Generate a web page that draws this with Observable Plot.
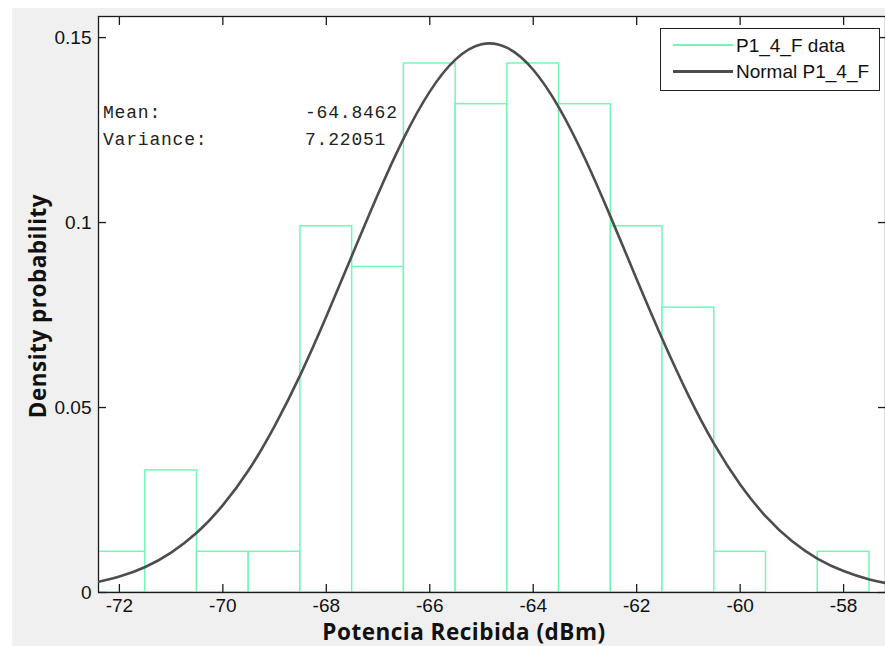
<!DOCTYPE html>
<html>
<head>
<meta charset="utf-8">
<script src="https://cdn.jsdelivr.net/npm/d3@7"></script>
<script src="https://cdn.jsdelivr.net/npm/@observablehq/plot@0.6"></script>
<style>
  html, body { margin: 0; padding: 0; background: #ffffff; }
  #wrap { position: relative; width: 885px; height: 646px; overflow: hidden; }
  #bg { position: absolute; left: 12px; top: 8px; right: 0; bottom: 0; background: #f0f0f0; }
  #chart { position: absolute; left: 0; top: 0; }
  .ttl { position: absolute; font-family: "Open Sans", "DejaVu Sans", sans-serif; font-weight: 700; font-size: 22.5px; letter-spacing: 0.5px; color: #111; line-height: 1; white-space: nowrap; }
  #ylab { left: 38px; top: 306px; transform: translate(-50%, -50%) rotate(-90deg); }
  #xlab { left: 464px; top: 632px; transform: translate(-50%, -50%); }
  .stat { position: absolute; font-family: "Liberation Mono", "Courier New", monospace; font-size: 18px; letter-spacing: 0.8px; color: #222; line-height: 27px; white-space: pre; }
  #legend { position: absolute; left: 660px; top: 28px; width: 218px; height: 61px; border: 1px solid #222; background: #fff; }
  .lg-line { position: absolute; left: 12px; width: 60px; }
  .lg-text { position: absolute; left: 75px; font-family: "Liberation Sans", Arial, sans-serif; font-size: 19px; color: #111; line-height: 1; transform: translateY(-50%); white-space: nowrap; }
</style>
</head>
<body>
<div id="wrap">
  <div id="bg"></div>
  <div id="chart"></div>
  <div class="ttl" id="ylab"></div>
  <div class="ttl" id="xlab"></div>
  <div class="stat" id="statLabels" style="left:103px; top:100px;"></div>
  <div class="stat" id="statValues" style="left:305px; top:100px;"></div>
  <div id="legend"></div>
</div>
<script>
// ---- data ----
const binCenters = [-72, -71, -70, -69, -68, -67, -66, -65, -64, -63, -62, -61, -60, -59, -58];
const binDensity = [0.011, 0.033, 0.011, 0.011, 0.099, 0.088, 0.143, 0.132, 0.143, 0.132, 0.099, 0.077, 0.011, 0, 0.011];
const binWidth = 1;

const curveX = [-72.4, -72, -71.5, -71, -70.5, -70, -69.5, -69, -68.5, -68, -67.5, -67, -66.5, -66, -65.5, -65, -64.5, -64, -63.5, -63, -62.5, -62, -61.5, -61, -60.5, -60, -59.5, -59, -58.5, -58, -57.5, -57.2];
const curveY = [0.0029, 0.0043, 0.0069, 0.0108, 0.0162, 0.0236, 0.0331, 0.0450, 0.0589, 0.0746, 0.0912, 0.1077, 0.1229, 0.1354, 0.1441, 0.1482, 0.1472, 0.1413, 0.1310, 0.1173, 0.1014, 0.0847, 0.0684, 0.0533, 0.0401, 0.0292, 0.0205, 0.0139, 0.0091, 0.0058, 0.0035, 0.0026];

const xTicks = [-72, -70, -68, -66, -64, -62, -60, -58];
const yTicks = [0, 0.05, 0.1, 0.15];
const xDomain = [-72.404, -57.19];
const yDomain = [0, 0.1557];

const xTitle = "Potencia Recibida (dBm)";
const yTitle = "Density probability";
const statNames = ["Mean:", "Variance:"];
const statValues = ["-64.8462", "7.22051"];
const legendLabels = ["P1_4_F data", "Normal P1_4_F"];

const barColor = "#74f7b6";
const curveColor = "#4d4d4d";

// ---- build tables ----
const bins = binCenters.map((c, i) => ({x1: c - binWidth / 2, x2: c + binWidth / 2, y: binDensity[i]}));
const curve = curveX.map((x, i) => ({x, y: curveY[i]}));

const fmt = d => String(d);

const chart = Plot.plot({
  width: 885,
  height: 646,
  marginLeft: 98,
  marginRight: 0,
  marginTop: 16,
  marginBottom: 54,
  style: {background: "transparent", fontFamily: "'Liberation Sans', Arial, sans-serif", color: "#111"},
  x: {domain: xDomain, label: null},
  y: {domain: yDomain, label: null},
  marks: [
    Plot.frame({fill: "white", stroke: null}),
    Plot.rectY(bins, {x1: "x1", x2: "x2", y: "y", fill: "white", stroke: barColor, strokeWidth: 1.5, clip: true}),
    Plot.frame({stroke: "#1a1a1a", strokeWidth: 1.3}),
    Plot.line(curve, {x: "x", y: "y", stroke: curveColor, strokeWidth: 2.6, curve: "natural", clip: true}),
    Plot.axisX(xTicks, {anchor: "bottom", tickSize: 0, tickPadding: 6, tickFormat: fmt, fontSize: 19, label: null}),
    Plot.axisX(xTicks, {anchor: "bottom", tickSize: -8, tickFormat: () => "", label: null, stroke: "#1a1a1a", strokeWidth: 1.3}),
    Plot.axisX(xTicks, {anchor: "top", tickSize: -8, tickFormat: () => "", label: null, stroke: "#1a1a1a", strokeWidth: 1.3}),
    Plot.axisY(yTicks, {anchor: "left", tickSize: 0, tickPadding: 7, tickFormat: fmt, fontSize: 19, label: null}),
    Plot.axisY(yTicks, {anchor: "left", tickSize: -8, tickFormat: () => "", label: null, stroke: "#1a1a1a", strokeWidth: 1.3}),
    Plot.axisY(yTicks, {anchor: "right", tickSize: -8, tickFormat: () => "", label: null, stroke: "#1a1a1a", strokeWidth: 1.3})
  ]
});
document.getElementById("chart").appendChild(chart);

document.getElementById("xlab").textContent = xTitle;
document.getElementById("ylab").textContent = yTitle;
document.getElementById("statLabels").textContent = statNames.join("\n");
document.getElementById("statValues").textContent = statValues.join("\n");

const legend = document.getElementById("legend");
const entries = [
  {label: legendLabels[0], color: barColor, w: 1.5, cy: 16},
  {label: legendLabels[1], color: curveColor, w: 3, cy: 42}
];
for (const e of entries) {
  const ln = document.createElement("div");
  ln.className = "lg-line";
  ln.style.top = (e.cy - e.w / 2) + "px";
  ln.style.height = e.w + "px";
  ln.style.background = e.color;
  legend.appendChild(ln);
  const tx = document.createElement("div");
  tx.className = "lg-text";
  tx.style.top = e.cy + "px";
  tx.textContent = e.label;
  legend.appendChild(tx);
}
</script>
</body>
</html>
